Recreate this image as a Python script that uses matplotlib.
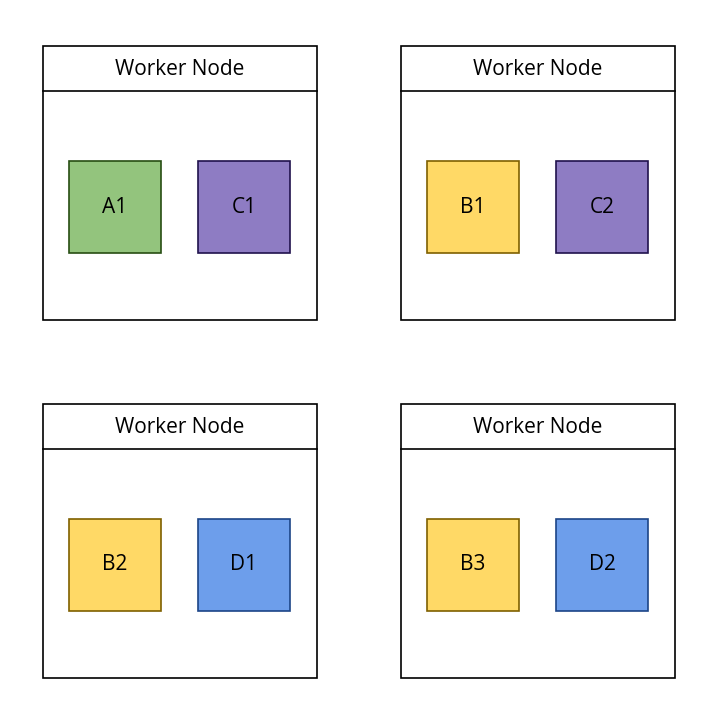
import matplotlib
matplotlib.use("Agg")
import matplotlib.pyplot as plt
from matplotlib.patches import Rectangle

node_titles = ["Worker Node"] * 4
node_pods = [["A1", "C1"], ["B1", "C2"], ["B2", "D1"], ["B3", "D2"]]
pod_fill = {"A": "#93c47d", "B": "#ffd966", "C": "#8e7cc3", "D": "#6d9eeb"}
pod_edge = {"A": "#274e13", "B": "#7f6000", "C": "#20124d", "D": "#1c4587"}

W, H = 722, 725
fig = plt.figure(figsize=(W / 100, H / 100), dpi=100)
ax = fig.add_axes([0, 0, 1, 1])
ax.set_xlim(0, W)
ax.set_ylim(H, 0)
ax.axis("off")

node_x = [43, 401, 43, 401]
node_y = [46, 46, 404, 404]
node_w, node_h, title_h = 274, 274, 45
pod_dx = [26, 155]
pod_dy, pod_s = 115, 92
font = "Open Sans"

for i, (title, pods) in enumerate(zip(node_titles, node_pods)):
    x0, y0 = node_x[i], node_y[i]
    ax.add_patch(Rectangle((x0, y0), node_w, node_h, fill=False, ec="black", lw=1.2))
    ax.plot([x0, x0 + node_w], [y0 + title_h, y0 + title_h], color="black", lw=1.2)
    ax.text(x0 + node_w / 2, y0 + title_h / 2 + 1, title, ha="center", va="center",
            fontsize=15, family=font)
    for j, p in enumerate(pods):
        px, py = x0 + pod_dx[j], y0 + pod_dy
        ax.add_patch(Rectangle((px, py), pod_s, pod_s, fc=pod_fill[p[0]], ec=pod_edge[p[0]], lw=1.2))
        ax.text(px + pod_s / 2, py + pod_s / 2, p, ha="center", va="center",
                fontsize=15, family=font)

fig.savefig("out.png", dpi=100, facecolor="white")
